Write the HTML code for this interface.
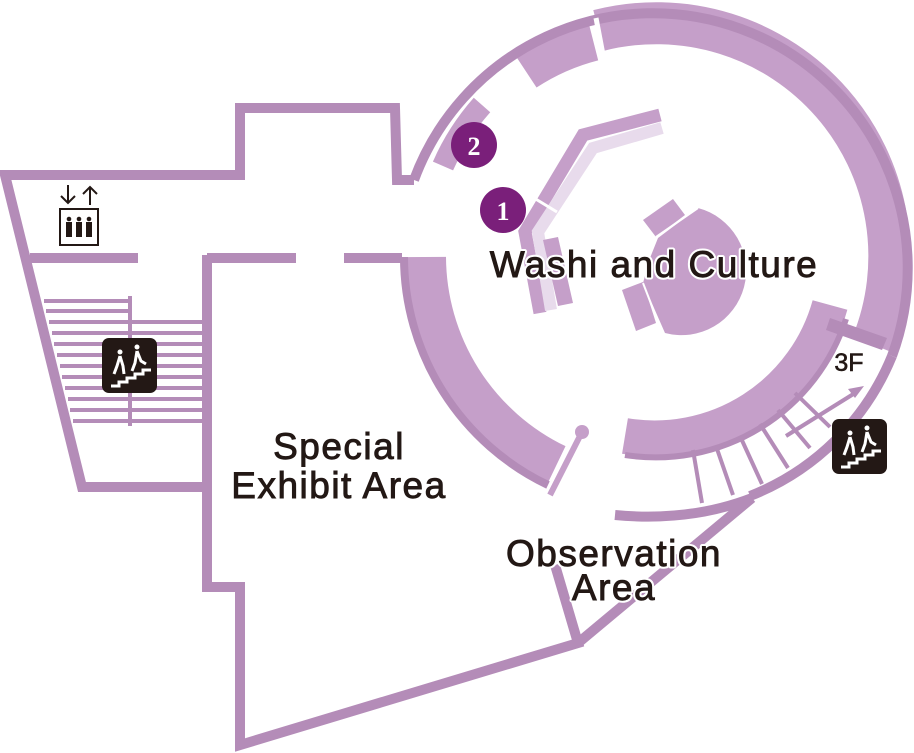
<!DOCTYPE html>
<html><head><meta charset="utf-8"><style>
html,body{margin:0;padding:0;background:#fff}
svg{display:block}
text{font-family:"Liberation Sans",sans-serif;fill:#231815}
.lbl{stroke:#fff;stroke-width:5;paint-order:stroke;stroke-linejoin:round}
.ink{stroke:#231815;stroke-width:0.9}
</style></head><body>
<svg width="914" height="753" viewBox="0 0 914 753" xmlns="http://www.w3.org/2000/svg">
<g fill="none">
  <path d="M 598.5 30.5 A 233 233 0 0 1 872.1 344.2" stroke="#c59fc9" stroke-width="42"/>
  <path d="M 525 70 A 225 225 0 0 1 593 40" stroke="#c59fc9" stroke-width="42"/>
  <path d="M 443 166 A 232 232 0 0 1 482 105" stroke="#c59fc9" stroke-width="22"/>
  <path d="M 424 257 A 233 233 0 0 0 556 466" stroke="#c59fc9" stroke-width="44"/>
  <path d="M 404 257 A 253 253 0 0 0 548 485" stroke="#b48cb8" stroke-width="8"/>
  <path d="M 625 436 A 182 182 0 0 0 830 305" stroke="#c59fc9" stroke-width="36"/>
  <path d="M 625 455 A 200 200 0 0 0 846 319" stroke="#b48cb8" stroke-width="6"/>
  <path d="M 414 180 A 253 253 0 1 1 892 356" stroke="#b48cb8" stroke-width="10"/>
  <path d="M 892 356 A 253 253 0 0 1 750 496" stroke="#b48cb8" stroke-width="10"/>
  <path d="M 615 515 Q 690 522 752 498" stroke="#b48cb8" stroke-width="10"/>
</g>
<line x1="596" y1="18" x2="604" y2="60" stroke="#fff" stroke-width="5"/>
<polygon points="830,318 887,338 882,350 826,330" fill="#b48cb8"/>
<g stroke="#b48cb8" stroke-width="4">
  <line x1="693" y1="450" x2="702" y2="503"/>
  <line x1="716" y1="446" x2="733" y2="495"/>
  <line x1="740" y1="436" x2="762" y2="484"/>
  <line x1="760" y1="424" x2="788" y2="468"/>
  <line x1="778" y1="410" x2="810" y2="448"/>
  <line x1="795" y1="393" x2="830" y2="427"/>
  <line x1="786" y1="436" x2="855" y2="393"/>
</g>
<polygon points="864,386 848,389 855,398" fill="#b48cb8"/>
<line x1="582" y1="432" x2="550" y2="495" stroke="#c59fc9" stroke-width="6"/>
<circle cx="582" cy="432" r="7" fill="#c59fc9"/>
<polyline points="660,115 583,135 525,232 540,313" fill="none" stroke="#c59fc9" stroke-width="13"/>
<polyline points="662,128 593,148 538,232 551,310" fill="none" stroke="#e8dbec" stroke-width="12"/>
<polygon points="543,240 558,237 573,303 558,306" fill="#c59fc9"/>
<line x1="534" y1="198" x2="557" y2="212" stroke="#fff" stroke-width="3"/>
<path d="M 698 208 A 63 63 0 1 1 665 333 L 643 283 L 650 258 L 658 238 Z" fill="#c59fc9"/>
<polygon points="643,220 673,199 685,215 656,237" fill="#c59fc9"/>
<polygon points="622,290 643,282 656,323 636,331" fill="#c59fc9"/>
<line x1="656" y1="237" x2="698" y2="208" stroke="#fff" stroke-width="2"/>
<line x1="643" y1="283" x2="662" y2="332" stroke="#fff" stroke-width="2"/>
<g fill="none" stroke="#b48cb8" stroke-width="10" stroke-linejoin="miter">
  <polyline points="414,180 397,180 395,108 240,108 240,175 5,175 82,487 207,487"/>
  <polyline points="207,255 207,587 240,587 240,745 578,643 555,565"/>
  <polyline points="578,643 752,498"/>
  <line x1="30" y1="258" x2="138" y2="258"/>
  <line x1="207" y1="258" x2="296" y2="258"/>
  <line x1="344" y1="258" x2="402" y2="258"/>
</g>
<g stroke="#b48cb8" stroke-width="4">
  <line x1="130" y1="296" x2="130" y2="426"/>
  <line x1="44" y1="301" x2="130" y2="301"/>
  <line x1="46" y1="311" x2="130" y2="311"/>
  <line x1="49" y1="322" x2="205" y2="322"/>
  <line x1="52" y1="333" x2="205" y2="333"/>
  <line x1="54" y1="344" x2="205" y2="344"/>
  <line x1="57" y1="355" x2="205" y2="355"/>
  <line x1="60" y1="366" x2="205" y2="366"/>
  <line x1="62" y1="377" x2="205" y2="377"/>
  <line x1="65" y1="388" x2="205" y2="388"/>
  <line x1="68" y1="399" x2="205" y2="399"/>
  <line x1="70" y1="410" x2="205" y2="410"/>
  <line x1="73" y1="421" x2="205" y2="421"/>
</g>
<g>
  <rect x="60" y="209" width="38" height="36" fill="#fff" stroke="#231815" stroke-width="2"/>
  <g fill="#231815">
    <circle cx="69" cy="219" r="2.3"/><rect x="66" y="222" width="6" height="15"/>
    <circle cx="79" cy="219" r="2.3"/><rect x="76" y="222" width="6" height="15"/>
    <circle cx="89" cy="219" r="2.3"/><rect x="86" y="222" width="6" height="15"/>
  </g>
  <path d="M68 185 V203 M61 196 L68 203 L75 196 M90 205 V187 M83 194 L90 187 L97 194" fill="none" stroke="#231815" stroke-width="2"/>
</g>
<g>
  <rect x="102" y="338" width="55" height="55" rx="7" fill="#231815"/>
  <path d="M111 386 h8 v-4 h8 v-4 h8 v-4 h8 v-4 h8" fill="none" stroke="#fff" stroke-width="3"/>
  <circle cx="120" cy="352" r="2.5" fill="#fff"/><path d="M120 356 l-3 10 l-3 8 M120 356 l3 10 l1 8" stroke="#fff" stroke-width="3" fill="none"/>
  <circle cx="137" cy="347" r="2.5" fill="#fff"/><path d="M137 351 l-2 12 l-3 8 M137 351 l4 10 l5 3" stroke="#fff" stroke-width="3" fill="none"/>
</g>
<g>
  <rect x="832" y="419" width="55" height="55" rx="7" fill="#231815"/>
  <path d="M841 467 h8 v-4 h8 v-4 h8 v-4 h8 v-4 h8" fill="none" stroke="#fff" stroke-width="3"/>
  <circle cx="850" cy="433" r="2.5" fill="#fff"/><path d="M850 437 l-3 10 l-3 8 M850 437 l3 10 l1 8" stroke="#fff" stroke-width="3" fill="none"/>
  <circle cx="867" cy="428" r="2.5" fill="#fff"/><path d="M867 432 l-2 12 l-3 8 M867 432 l4 10 l5 3" stroke="#fff" stroke-width="3" fill="none"/>
</g>
<circle cx="474" cy="145" r="23" fill="#7a1f7a"/>
<text x="474" y="155" font-size="26" font-weight="bold" text-anchor="middle" style="fill:#fff;font-family:'Liberation Serif',serif">2</text>
<circle cx="503" cy="210" r="23" fill="#7a1f7a"/>
<text x="503" y="220" font-size="26" font-weight="bold" text-anchor="middle" style="fill:#fff;font-family:'Liberation Serif',serif">1</text>
<g font-size="37" text-anchor="middle" letter-spacing="1.5">
  <text class="lbl" x="654" y="277">Washi and Culture</text>
  <text class="ink" x="654" y="277">Washi and Culture</text>
  <text class="lbl" x="339" y="459">Special</text>
  <text class="ink" x="339" y="459">Special</text>
  <text class="lbl" x="339" y="498">Exhibit Area</text>
  <text class="ink" x="339" y="498">Exhibit Area</text>
  <text class="lbl" x="614" y="566">Observation</text>
  <text class="ink" x="614" y="566">Observation</text>
  <text class="lbl" x="614" y="600">Area</text>
  <text class="ink" x="614" y="600">Area</text>
</g>
<text x="849" y="371" font-size="25" text-anchor="middle" class="ink" style="stroke-width:0.6">3F</text>
</svg>
</body></html>
